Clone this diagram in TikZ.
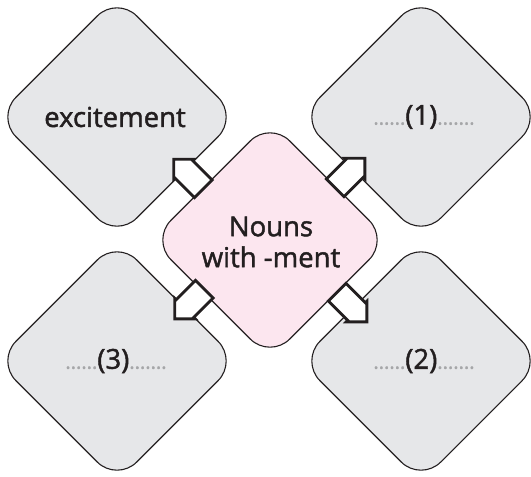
\documentclass[tikz,border=0pt]{standalone}
\usepackage{fontspec}
\setmainfont{Open Sans}[FakeBold=1.6]
\usetikzlibrary{shapes.geometric}
\definecolor{boxgrey}{HTML}{E6E7E9}
\definecolor{boxpink}{HTML}{FCE6EF}
\definecolor{inkc}{HTML}{231F20}
\definecolor{dotc}{HTML}{A5A6A8}
\tikzset{
  greybox/.style={diamond, aspect=1, draw=inkc, line width=1.1pt, fill=boxgrey,
    minimum width=242pt, minimum height=242pt, inner sep=0pt, rounded corners=28pt},
  pinkbox/.style={diamond, aspect=1, draw=inkc, line width=1.1pt, fill=boxpink,
    minimum width=238pt, minimum height=238pt, inner sep=0pt, rounded corners=28pt},
  blockarrow/.pic={
    \draw[draw=inkc, fill=white, line width=2.8pt, line join=miter]
      (-21,-12.5) -- (6.5,-12.5) -- (6.5,-14.5) -- (21,0) -- (6.5,14.5)
      -- (6.5,12.5) -- (-21,12.5) -- cycle;
  },
  lbl/.style={text=inkc, font=\fontsize{27.5}{31}\selectfont, align=center, inner sep=0pt},
}
\newcommand{\dotsL}{{\color{dotc}\fontsize{20}{20}\selectfont ......}}
\newcommand{\dotsR}{{\color{dotc}\fontsize{20}{20}\selectfont .......}}
\begin{document}
\begin{tikzpicture}[x=1pt,y=1pt]
\useasboundingbox (0,0) rectangle (531,-477);
\node[greybox] (tl) at (117,-117) {};
\node[greybox] (tr) at (421,-117) {};
\node[greybox] (bl) at (117,-361) {};
\node[greybox] (br) at (421,-361) {};
\node[pinkbox] (ct) at (270,-240) {};
\node[lbl] (tltext) at (115,-117) {excitement};
\node[lbl] (trtext) at (424,-117) {\dotsL(1)\dotsR};
\node[lbl] (brtext) at (424,-361) {\dotsL(2)\dotsR};
\node[lbl] (bltext) at (116,-361) {\dotsL(3)\dotsR};
\node[lbl] (cttext) at (271,-242) {Nouns\\with -ment};
\pic[rotate=135] (a1) at (188.5,-174) {blockarrow};
\pic[rotate=45] (a2) at (350,-173) {blockarrow};
\pic[rotate=225] (a3) at (189.5,-304) {blockarrow};
\pic[rotate=-45] (a4) at (352,-307) {blockarrow};
\end{tikzpicture}
\end{document}
